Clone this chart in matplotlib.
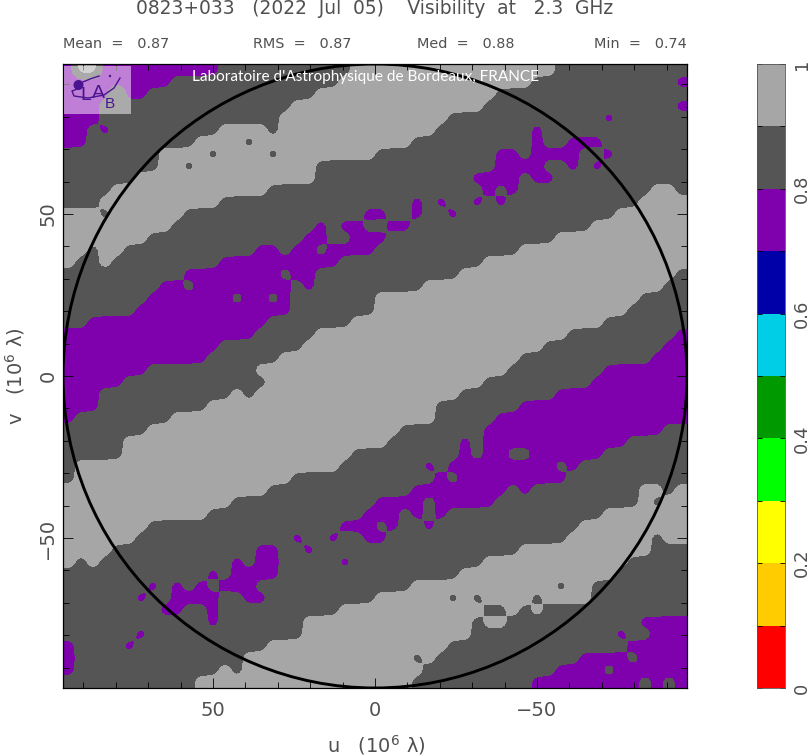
import numpy as np
import matplotlib
matplotlib.use("Agg")
import matplotlib.pyplot as plt
from matplotlib.patches import Rectangle, Circle

# Visibility map, in four quadrants of 26 x 26 cells.
# o = 0.9-1.0, . = 0.8-0.9, # = 0.7-0.8
top_left = [
"#oo##########...........oo",
"#########..............ooo",
"####o##..............ooooo",
"###................ooooooo",
"###...............oooooooo",
"##.#.........oooo.oooooooo",
"##.........oooo.oooooooooo",
"........oooo.oooo.oooooooo",
"........oo.oooooooooo.....",
"......ooooooooooooooo.....",
"....ooooooooooooo.........",
"...oooooooooo.............",
"ooo.oooooo...............#",
"ooooooooo............#.##.",
"ooooooo.............##..##",
"oo.oo...........##.##.####",
"o..o.........##########...",
"..........########.##.....",
"........##.########.#.....",
".......#######.##.#.......",
"......#############.......",
"..###############.......oo",
"################.....ooooo",
"#############.......oooooo",
"############......oooooooo",
"#######.........oooooooooo",
]
top_right = [
"ooooooooooooooo...........",
"ooooooooooooo............#",
"oooooooooo................",
"ooooooooo................#",
"oooooo.............#......",
"ooooo........#............",
"ooo..........#..###.......",
"..........##.####..#......",
"..........####..#.#.......",
"........####.##...........",
".........#.#...........oo.",
"...#.#..#.#...........oooo",
"#..#..#.............oooooo",
".##...............oooooooo",
"#..............ooooooooooo",
"............oooooooooooooo",
".........ooooooooooooooooo",
".......oooooooooooooooooo.",
"....oooooooooooooooooooo..",
"oooooooooooooooooooooo....",
"ooooooooooooooooooooo.....",
"ooooooooooooooooooo.......",
"oooooooooooooooo.........#",
"oooooooooooooo..........##",
"oooooooooooo...........###",
"ooooooooooo........#######",
]
bottom_left = [
"#####............ooooooooo",
"###...........o.oooooooooo",
"###.........oooooooooooooo",
"#........ooooooooooooooooo",
".......ooooooooooooooooooo",
".....ooooooooooooooooooooo",
".....ooooooooooooooooooo..",
".oooooooooooooooooooooo...",
".oooooooooooooooooo.......",
"ooooooooooooooooo.........",
"oooooooooooooo............",
"oooooooooooo.............#",
"ooooooo................###",
"oooooo.............#..#..#",
"oooo............##..#.....",
"o.o...........#.##.....#..",
"............#.####........",
".......#.#.#.###..........",
"......#..####..##.........",
"........##..#..........ooo",
"............#.......oooooo",
"......#.............oooooo",
"#....#...........ooooooooo",
"#..............ooooooooooo",
"#............o.ooooooooooo",
"...........ooooooooooooooo",
]
bottom_right = [
"ooooooooo.........########",
"ooooooo........###########",
"ooooo.......##############",
"ooooo.....################",
"oo.......###############..",
"o......#.############.....",
".......#.##..######.......",
"....#.#########.#.........",
".....#.#########..........",
"...########.#.........oo.o",
"####.#####............o.oo",
"##.#.#.............ooooooo",
".#..#............ooooooooo",
"#...............ooooooo.oo",
"............ooooooooooo...",
".........oooooooooooo.....",
".......ooooooooooooo......",
"...oooooooooooo.oo........",
"oooooo.o.oooo.oooo........",
"ooooooooo..o.o............",
"oooooooo.oo...........####",
"oooooooo............#..###",
"oooooo...............#####",
"ooo.o............####.####",
"oooo...........####.######",
"ooo..........#########.#.#",
]
class_values = {"o": 0.95, ".": 0.85, "#": 0.75}

scale_levels = [0, .1, .2, .3, .4, .5, .6, .7, .8, .9, 1.0]
scale_colors = ["#FF0000", "#FFCC00", "#FFFF00", "#00FF00", "#009900",
                "#00CDE6", "#0000A8", "#7F00AD", "#555555", "#A6A6A6"]
scale_ticks = [0, .2, .4, .6, .8, 1.0]
scale_labels = ["0", "0.2", "0.4", "0.6", "0.8", "1"]

axis_limit = 96.3
title = "0823+033   (2022  Jul  05)    Visibility  at   2.3  GHz"
stats = ["Mean  =   0.87", "RMS  =   0.87", "Med  =   0.88", "Min  =   0.74"]
uv_ticks = [50, 0, -50]
uv_minor = np.arange(-90, 91, 10)
uv_labels = ["50", "0", "\u221250"]

rows = [a + b for a, b in zip(top_left, top_right)] + \
       [a + b for a, b in zip(bottom_left, bottom_right)]
grid = np.array([[class_values[c] for c in r] for r in rows])

# finer sampling of the cells, softened so that the contours are rounded
sub = 6
fine = np.repeat(np.repeat(grid, sub, axis=0), sub, axis=1)
sigma = 0.42 * sub
half = int(3 * sigma)
kernel = np.exp(-0.5 * (np.arange(-half, half + 1) / sigma) ** 2)
kernel /= kernel.sum()
padded = np.pad(fine, half, mode="edge")
padded = np.apply_along_axis(lambda m: np.convolve(m, kernel, mode="same"), 0, padded)
padded = np.apply_along_axis(lambda m: np.convolve(m, kernel, mode="same"), 1, padded)
fine = padded[half:-half, half:-half]

plt.rcParams["font.family"] = ["DejaVu Sans"]
fig = plt.figure(figsize=(8.1, 7.56), dpi=100)
W, H = 810.0, 756.0
INK = "#505050"

ax = fig.add_axes([63 / W, 1 - 688 / H, 624 / W, 624 / H])
m = fine.shape[0]
step = 2 * axis_limit / m
centers = axis_limit - step * (np.arange(m) + 0.5)
pad = np.pad(fine, 1, mode="edge")
xs = np.concatenate(([centers[0] + step], centers, [centers[-1] - step]))
ax.contourf(xs, xs, pad, levels=scale_levels, colors=scale_colors)
ax.add_patch(Circle((0, 0), axis_limit, fill=False, ec="black", lw=2.1, zorder=5))
ax.set_xlim(axis_limit, -axis_limit)
ax.set_ylim(-axis_limit, axis_limit)
ax.set_aspect("equal")
ax.set_xticks(uv_ticks, uv_labels)
ax.set_yticks(uv_ticks, uv_labels)
ax.set_xticks(uv_minor, minor=True)
ax.set_yticks(uv_minor, minor=True)
ax.tick_params(which="major", direction="in", length=7, width=0.6, top=True, right=True,
               labelsize=14, labelcolor=INK, pad=9)
ax.tick_params(which="minor", direction="in", length=4, width=0.6, top=True, right=True)
ax.tick_params(axis="x", which="major", pad=9)
ax.tick_params(axis="y", which="major", pad=4)
for lab in ax.get_yticklabels():
    lab.set_rotation(90)
    lab.set_va("center")
for s in ax.spines.values():
    s.set_linewidth(0.9)

cax = fig.add_axes([757 / W, 1 - 688 / H, 28 / W, 624 / H])
cols = np.array([0, 1])
cax.contourf(cols, scale_levels, np.tile(np.array(scale_levels)[:, None], (1, 2)),
             levels=scale_levels, colors=scale_colors)
cax.set_xlim(0, 1)
cax.set_ylim(0, 1)
cax.set_xticks([])
cax.set_yticks(scale_ticks, scale_labels)
cax.set_yticks(scale_levels, minor=True)
cax.yaxis.tick_right()
cax.tick_params(which="both", direction="in", length=3.5, width=0.6, left=True, right=True,
                labelsize=13, labelcolor=INK, pad=6)
for lab in cax.get_yticklabels():
    lab.set_rotation(90)
    lab.set_va("center")
for s in cax.spines.values():
    s.set_linewidth(0.6)
    s.set_color("#555555")

ov = fig.add_axes([0, 0, 1, 1], zorder=10)
ov.set_xlim(0, W)
ov.set_ylim(H, 0)
ov.axis("off")
ov.patch.set_alpha(0)

ov.text(374.5, 8.5, title, ha="center", va="center", fontsize=13.4, color=INK)
ov.text(63, 43.5, stats[0], ha="left", va="center", fontsize=10.4, color=INK)
ov.text(253, 43.5, stats[1], ha="left", va="center", fontsize=10.4, color=INK)
ov.text(417, 43.5, stats[2], ha="left", va="center", fontsize=10.4, color=INK)
ov.text(687, 43.5, stats[3], ha="right", va="center", fontsize=10.4, color=INK)
ov.text(376, 745, "u   (10$^{6}$ \u03bb)", ha="center", va="center", fontsize=14, color=INK)
ov.text(15, 376, "v   (10$^{6}$ \u03bb)", ha="center", va="center", rotation=90,
        fontsize=14, color=INK)

ov.text(365.5, 77, "Laboratoire d'Astrophysique de Bordeaux, FRANCE", ha="center", va="center",
        family="Lato", fontsize=11.1, color="white")

# logo
LOGO = "#4A1490"
ov.add_patch(Rectangle((64, 66), 67, 48, fc="white", ec="none", alpha=0.5))
ov.add_patch(Circle((78.5, 85), 5, fc=LOGO, ec="none"))
ov.plot([83, 90, 99], [82, 79, 76], color=LOGO, lw=1)
ov.plot([80, 72, 74, 88, 104, 114, 120], [88, 91, 96, 98, 95, 88, 78], color=LOGO, lw=1)
ov.add_patch(Circle((110, 76), 1.2, fc=LOGO, ec="none"))
ov.text(86, 96, "L", color=LOGO, fontsize=14, family="Liberation Sans", ha="center", va="center")
ov.text(98, 94, "A", color=LOGO, fontsize=14, family="Liberation Sans", ha="center", va="center")
ov.text(110, 104, "B", color=LOGO, fontsize=11, family="Liberation Sans", ha="center", va="center")

fig.savefig("out.png", dpi=100)
